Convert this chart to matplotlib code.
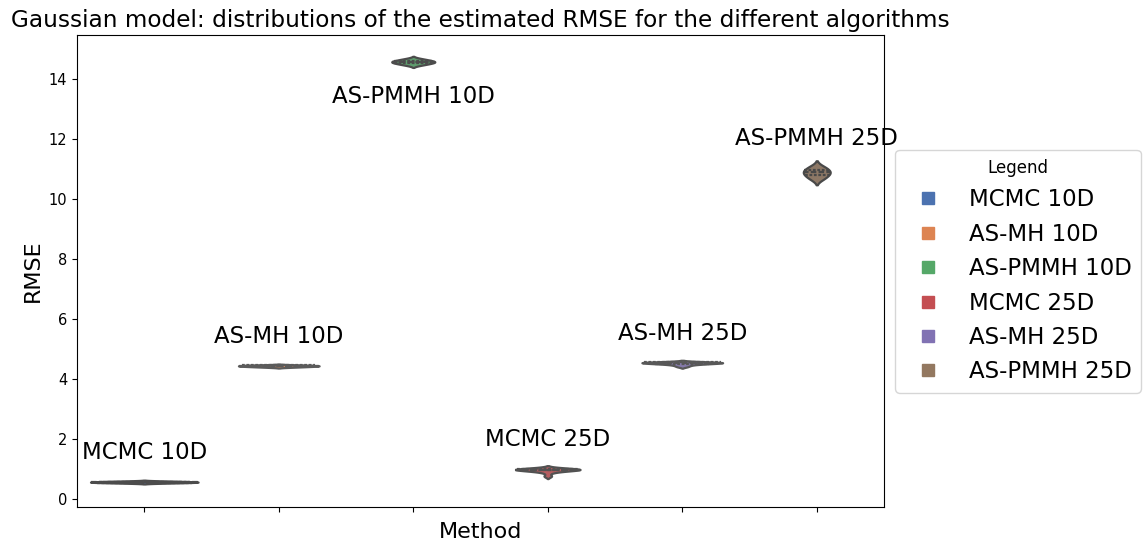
import numpy as np
import pandas as pd
import matplotlib
matplotlib.use("Agg")
import matplotlib.pyplot as plt
import seaborn as sns
from matplotlib.lines import Line2D

methods = ["MCMC 10D", "AS-MH 10D", "AS-PMMH 10D", "MCMC 25D", "AS-MH 25D", "AS-PMMH 25D"]

# RMSE of the individual runs
rmse_mcmc_10 = [0.540, 0.548, 0.553, 0.558, 0.562, 0.566, 0.569, 0.572, 0.575, 0.578,
                0.581, 0.584, 0.587, 0.590, 0.594, 0.598, 0.602, 0.607, 0.612, 0.620]
rmse_asmh_10 = [4.400, 4.410, 4.418, 4.425, 4.430, 4.435, 4.440, 4.444, 4.448, 4.452,
                4.457, 4.462, 4.468, 4.474, 4.480]
rmse_aspmmh_10 = [14.46, 14.50, 14.53, 14.55, 14.57, 14.59, 14.62, 14.66]
rmse_mcmc_25 = [0.78, 0.90, 0.95, 0.97, 0.98, 0.99, 1.00, 1.00, 1.01, 1.01, 1.02, 1.04]
rmse_asmh_25 = [4.42, 4.46, 4.49, 4.51, 4.52, 4.53, 4.54, 4.54, 4.55, 4.55,
                4.56, 4.56, 4.57, 4.57, 4.58]
rmse_aspmmh_25 = [10.68, 10.80, 10.88, 10.95, 11.06]

# label above the violin (+1) or below it (-1)
label_side = [1, 1, -1, 1, 1, 1]

all_rmse = [rmse_mcmc_10, rmse_asmh_10, rmse_aspmmh_10, rmse_mcmc_25, rmse_asmh_25, rmse_aspmmh_25]

df = pd.DataFrame({
    "Method": np.repeat(methods, [len(v) for v in all_rmse]),
    "RMSE": np.concatenate(all_rmse),
})

colors = sns.color_palette("deep", len(methods))
max_runs = max(len(v) for v in all_rmse)

fig = plt.figure(figsize=(11.43, 5.43), dpi=100)
ax = fig.add_axes([0.0674, 0.0663, 0.706, 0.869])

# one violin per method, width scaled by the number of runs
for i, m in enumerate(methods):
    sub = df[df["Method"] == m]
    sns.violinplot(data=sub, x="Method", y="RMSE", order=methods, color=colors[i],
                   inner="quartile", density_norm="width",
                   width=0.8 * len(sub) / max_runs, linewidth=1.6, ax=ax)

for i, vals in enumerate(all_rmse):
    if label_side[i] > 0:
        y = max(vals) + 0.95
    else:
        y = min(vals) - 1.05
    ax.text(i, y, methods[i], ha="center", va="center", fontsize=16.5)

ax.set_xticks(range(len(methods)))
ax.set_xticklabels([])
ax.set_xlim(-0.5, len(methods) - 0.5)
ax.set_ylim(-0.25, 15.45)
ax.set_xlabel("Method", fontsize=16)
ax.set_ylabel("RMSE", fontsize=16)
ax.tick_params(axis="y", labelsize=10.5)
ax.set_title("Gaussian model: distributions of the estimated RMSE for the different algorithms",
             fontsize=16.7)

handles = [Line2D([0], [0], marker="s", linestyle="none", markersize=8, color=c) for c in colors]
ax.legend(handles, methods, title="Legend", loc="center left", bbox_to_anchor=(1.0, 0.5),
          fontsize=16.5, title_fontsize=12)

fig.savefig("out.png", dpi=100)
